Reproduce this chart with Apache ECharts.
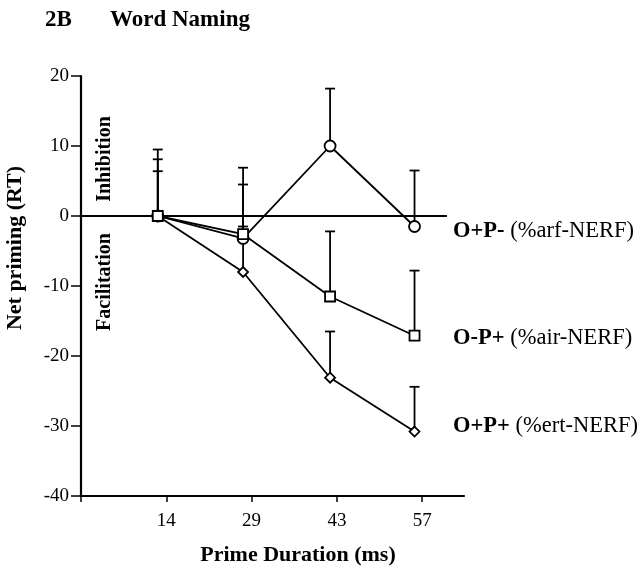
<!DOCTYPE html>
<html>
<head>
<meta charset="utf-8">
<script src="https://cdn.jsdelivr.net/npm/echarts@6/dist/echarts.min.js"></script>
<style>
  html, body { margin: 0; padding: 0; background: #fff; }
  #chart { width: 640px; height: 567px; }
</style>
</head>
<body>
<div id="chart"></div>
<script>
// x positions are in tick units (tick 1 = 14 ms, 2 = 29 ms ...)
var tickLabels = ['', '14', '29', '43', '57'];
var xPos = [0.9, 1.9, 2.92, 3.91];

// O+P- (circles)
var arfMean = [0, -3.2, 10, -1.5];
var arfTop = [9.5, 6.9, 18.2, 6.5];
// O-P+ (squares)
var airMean = [0, -2.6, -11.5, -17.1];
var airTop = [8.1, 4.5, -2.2, -7.8];
// O+P+ (diamonds)
var ertMean = [0, -8.0, -23.1, -30.8];
var ertTop = [6.4, -1.5, -16.5, -24.4];

var zeroLine = [[0, 0], [4.29, 0]];

var serif = '"Liberation Serif", "DejaVu Serif", serif';

function pairs(xs, ys) {
    return xs.map(function (x, i) { return [x, ys[i]]; });
}

function errData(xs, mean, top) {
    return xs.map(function (x, i) { return [x, mean[i], top[i]]; });
}

function errorBars(data) {
    return {
        type: 'custom',
        z: 1,
        data: data,
        renderItem: function (params, api) {
            var p0 = api.coord([api.value(0), api.value(1)]);
            var p1 = api.coord([api.value(0), api.value(2)]);
            var style = { stroke: '#000', lineWidth: 1.8 };
            return {
                type: 'group',
                children: [
                    { type: 'line', shape: { x1: p0[0], y1: p0[1], x2: p1[0], y2: p1[1] }, style: style },
                    { type: 'line', shape: { x1: p1[0] - 5, y1: p1[1], x2: p1[0] + 5, y2: p1[1] }, style: style }
                ]
            };
        }
    };
}

function lineSeries(name, data, symbol, size) {
    return {
        name: name,
        type: 'line',
        z: 3,
        data: data,
        symbol: symbol,
        symbolSize: size,
        showAllSymbol: true,
        lineStyle: { color: '#000', width: 1.8 },
        itemStyle: { color: '#fff', borderColor: '#000', borderWidth: 1.8 }
    };
}

var chart = echarts.init(document.getElementById('chart'));

var option = {
    backgroundColor: '#fff',
    animation: false,
    grid: { left: 81, right: 176, top: 76, bottom: 71 },
    xAxis: {
        type: 'value',
        min: 0,
        max: 4.49,
        interval: 1,
        splitLine: { show: false },
        axisLine: { onZero: false, lineStyle: { color: '#000', width: 2.2 } },
        axisTick: { customValues: [0, 1, 2, 3, 4], length: 6, lineStyle: { color: '#000', width: 1.5 } },
        axisLabel: {
            customValues: [1, 2, 3, 4],
            formatter: function (v) { return tickLabels[Math.round(v)]; },
            color: '#000', fontFamily: serif, fontSize: 19, margin: 16
        }
    },
    yAxis: {
        type: 'value',
        min: -40,
        max: 20,
        interval: 10,
        splitLine: { show: false },
        axisLine: { lineStyle: { color: '#000', width: 2.2 } },
        axisTick: { length: 10, lineStyle: { color: '#000', width: 1.5 } },
        axisLabel: { color: '#000', fontFamily: serif, fontSize: 19, margin: 12 }
    },
    graphic: [
        { type: 'text', left: 45, top: 9, style: { text: '2B', font: 'bold 23px ' + serif, fill: '#000' } },
        { type: 'text', left: 110, top: 9, style: { text: 'Word Naming', font: 'bold 23px ' + serif, fill: '#000' } },
        { type: 'text', x: 15, y: 248, rotation: Math.PI / 2,
          style: { text: 'Net priming (RT)', font: 'bold 22px ' + serif, fill: '#000', align: 'center', verticalAlign: 'middle' } },
        { type: 'text', x: 298, y: 555,
          style: { text: 'Prime Duration (ms)', font: 'bold 22px ' + serif, fill: '#000', align: 'center', verticalAlign: 'middle' } },
        { type: 'text', x: 105, y: 159, rotation: Math.PI / 2,
          style: { text: 'Inhibition', font: 'bold 20px ' + serif, fill: '#000', align: 'center', verticalAlign: 'middle' } },
        { type: 'text', x: 105, y: 282, rotation: Math.PI / 2,
          style: { text: 'Facilitation', font: 'bold 20px ' + serif, fill: '#000', align: 'center', verticalAlign: 'middle' } },
        { type: 'text', x: 453, y: 231,
          style: { text: '{b|O+P-} (%arf-NERF)', verticalAlign: 'middle', font: '22.5px ' + serif, fill: '#000',
                   rich: { b: { fontWeight: 'bold', fontFamily: serif, fontSize: 22.5 } } } },
        { type: 'text', x: 453, y: 338,
          style: { text: '{b|O-P+} (%air-NERF)', verticalAlign: 'middle', font: '22.5px ' + serif, fill: '#000',
                   rich: { b: { fontWeight: 'bold', fontFamily: serif, fontSize: 22.5 } } } },
        { type: 'text', x: 453, y: 426,
          style: { text: '{b|O+P+} (%ert-NERF)', verticalAlign: 'middle', font: '22.5px ' + serif, fill: '#000',
                   rich: { b: { fontWeight: 'bold', fontFamily: serif, fontSize: 22.5 } } } }
    ],
    series: [
        {
            type: 'line',
            z: 0,
            data: zeroLine,
            symbol: 'none',
            lineStyle: { color: '#000', width: 1.8 }
        },
        errorBars(errData(xPos, arfMean, arfTop)),
        errorBars(errData(xPos, ertMean, ertTop)),
        errorBars(errData(xPos, airMean, airTop)),
        lineSeries('O+P+', pairs(xPos, ertMean), 'diamond', 10),
        lineSeries('O+P-', pairs(xPos, arfMean), 'circle', 11),
        lineSeries('O-P+', pairs(xPos, airMean), 'rect', 10)
    ]
};

chart.setOption(option);
</script>
</body>
</html>
